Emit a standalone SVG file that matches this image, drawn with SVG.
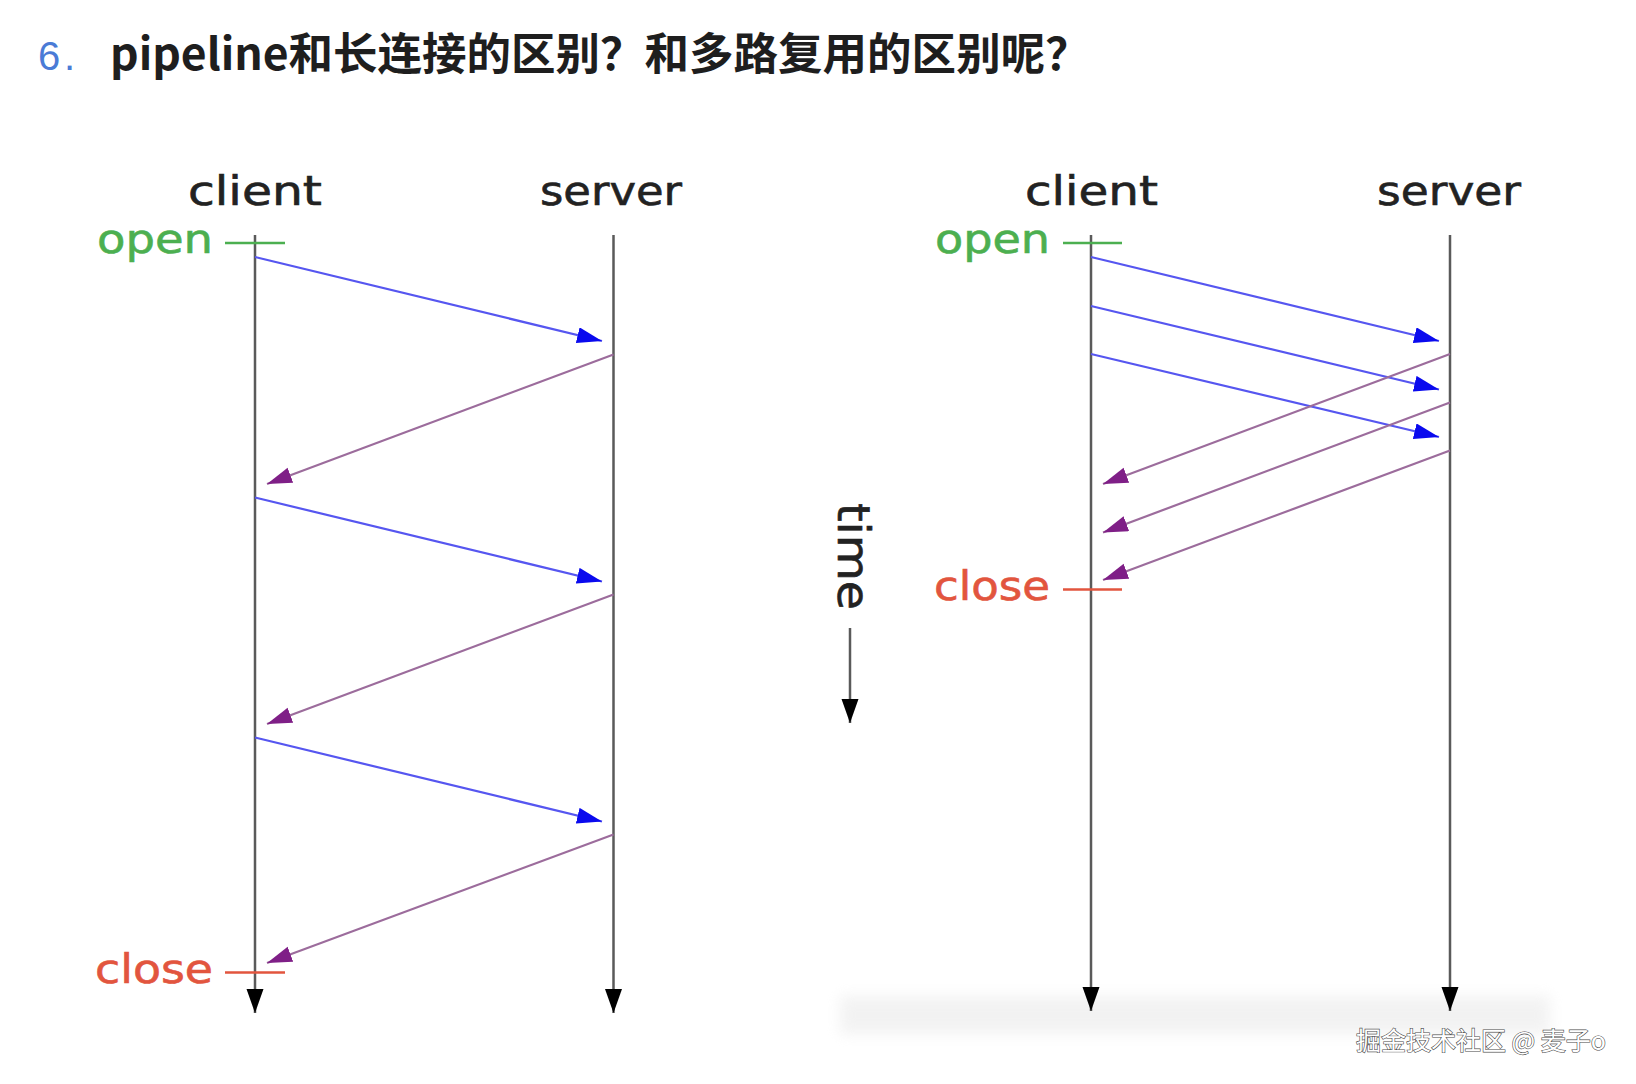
<svg xmlns="http://www.w3.org/2000/svg" width="1636" height="1084" viewBox="0 0 1636 1084">
<defs>
<style>
.bg{fill:#ffffff}
.life{stroke:#5a5a5a;stroke-width:2.5;fill:none}
.req{stroke:#5656f0;stroke-width:2.2;fill:none}
.resp{stroke:#9c6c9c;stroke-width:2.2;fill:none}
.lbl{font-family:"DejaVu Sans",Verdana,sans-serif;font-size:40px;fill:#222222;stroke:#222222;stroke-width:0.6}
.open{font-family:"DejaVu Sans",Verdana,sans-serif;font-size:40px;fill:#4caf50;stroke:#4caf50;stroke-width:0.6}
.close{font-family:"DejaVu Sans",Verdana,sans-serif;font-size:40px;fill:#e2553e;stroke:#e2553e;stroke-width:0.6}
.gl{stroke:#4caf50;stroke-width:2.5}
.rl{stroke:#e2553e;stroke-width:2.5}
.title{font-family:"Noto Sans CJK SC","Noto Sans",sans-serif;font-size:44.5px;font-weight:bold;fill:#1e1e1e}
.num{font-family:"Liberation Sans","Noto Sans",sans-serif;font-size:40px;fill:#4a7bd6}
.wm{font-family:"Noto Sans CJK SC",sans-serif;font-size:25px;fill:#ffffff;stroke:#4a4a4a;stroke-width:1.2;paint-order:stroke}
</style>
<marker id="ah-black" markerUnits="userSpaceOnUse" markerWidth="26" markerHeight="18" refX="24" refY="8.5" orient="auto">
<path d="M0,0 L24,8.5 L0,17 z" fill="#000000"/>
</marker>
<marker id="ah-blue" markerUnits="userSpaceOnUse" markerWidth="27" markerHeight="17" refX="25" refY="8" orient="auto">
<path d="M0,0 L25,8 L0,16 z" fill="#0a0aee"/>
</marker>
<marker id="ah-purple" markerUnits="userSpaceOnUse" markerWidth="27" markerHeight="17" refX="25" refY="8" orient="auto">
<path d="M0,0 L25,8 L0,16 z" fill="#7f1f87"/>
</marker>
<filter id="blur" x="-10%" y="-50%" width="120%" height="200%">
<feGaussianBlur stdDeviation="7"/>
</filter>
</defs>
<rect class="bg" x="0" y="0" width="1636" height="1084"/>

<g id="title">
<text class="num" x="38" y="70">6</text>
<text class="num" x="64" y="70">.</text>
<text class="title" x="110" y="70">pipeline和长连接的区别？和多路复用的区别呢？</text>
</g>

<g id="smudge" filter="url(#blur)" opacity="0.4">
<rect x="840" y="996" width="710" height="38" fill="#e0e0e0"/>
</g>

<g id="left-client">
<text class="lbl" x="188" y="205" textLength="134" lengthAdjust="spacingAndGlyphs">client</text>
<line class="life" x1="255" y1="235" x2="255" y2="1013" marker-end="url(#ah-black)"/>
<text class="open" x="97" y="253" textLength="116" lengthAdjust="spacingAndGlyphs">open</text>
<line class="gl" x1="225" y1="243" x2="285" y2="243"/>
<text class="close" x="95" y="983" textLength="118" lengthAdjust="spacingAndGlyphs">close</text>
<line class="rl" x1="225" y1="972.5" x2="285" y2="972.5"/>
</g>
<g id="left-server">
<text class="lbl" x="540" y="205" textLength="142" lengthAdjust="spacingAndGlyphs">server</text>
<line class="life" x1="613.5" y1="235" x2="613.5" y2="1013" marker-end="url(#ah-black)"/>
</g>

<g id="right-client">
<text class="lbl" x="1025" y="205" textLength="133" lengthAdjust="spacingAndGlyphs">client</text>
<line class="life" x1="1091" y1="235" x2="1091" y2="1011" marker-end="url(#ah-black)"/>
<text class="open" x="935" y="253" textLength="115" lengthAdjust="spacingAndGlyphs">open</text>
<line class="gl" x1="1063" y1="243" x2="1122" y2="243"/>
<text class="close" x="934" y="600" textLength="116" lengthAdjust="spacingAndGlyphs">close</text>
<line class="rl" x1="1063" y1="589.5" x2="1122" y2="589.5"/>
</g>
<g id="right-server">
<text class="lbl" x="1377" y="205" textLength="144" lengthAdjust="spacingAndGlyphs">server</text>
<line class="life" x1="1450" y1="235" x2="1450" y2="1011" marker-end="url(#ah-black)"/>
</g>

<g id="time">
<text class="lbl" transform="translate(838,503) rotate(90)" textLength="107" lengthAdjust="spacingAndGlyphs" style="font-size:44px">time</text>
<line class="life" x1="850" y1="628" x2="850" y2="723" marker-end="url(#ah-black)"/>
</g>

<g id="connectors">
<line class="req" x1="255" y1="257" x2="602" y2="341" marker-end="url(#ah-blue)"/>
<line class="resp" x1="613.5" y1="354.5" x2="267" y2="484" marker-end="url(#ah-purple)"/>
<line class="req" x1="255" y1="497.5" x2="602" y2="581.5" marker-end="url(#ah-blue)"/>
<line class="resp" x1="613.5" y1="594.5" x2="267" y2="724" marker-end="url(#ah-purple)"/>
<line class="req" x1="255" y1="737.5" x2="602" y2="821.5" marker-end="url(#ah-blue)"/>
<line class="resp" x1="613.5" y1="834.5" x2="267" y2="963" marker-end="url(#ah-purple)"/>

<line class="req" x1="1091" y1="257" x2="1439" y2="341" marker-end="url(#ah-blue)"/>
<line class="req" x1="1091" y1="306" x2="1439" y2="389.5" marker-end="url(#ah-blue)"/>
<line class="req" x1="1091" y1="354" x2="1439" y2="437" marker-end="url(#ah-blue)"/>
<line class="resp" x1="1450" y1="354" x2="1103" y2="484" marker-end="url(#ah-purple)"/>
<line class="resp" x1="1450" y1="402.5" x2="1103" y2="532.5" marker-end="url(#ah-purple)"/>
<line class="resp" x1="1450" y1="450.5" x2="1103" y2="580" marker-end="url(#ah-purple)"/>
</g>

<g id="watermark">
<text class="wm" x="1356" y="1050" textLength="250" lengthAdjust="spacingAndGlyphs">掘金技术社区 @ 麦子o</text>
</g>
</svg>
